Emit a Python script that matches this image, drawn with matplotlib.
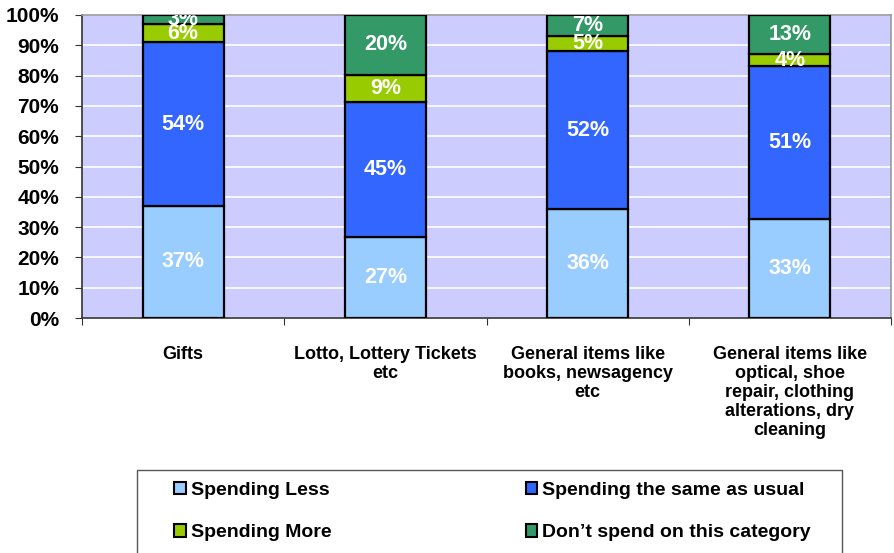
import numpy as np
import matplotlib.pyplot as plt
from matplotlib.patches import Rectangle, Patch

plt.rcParams['font.family'] = ['Liberation Sans', 'DejaVu Sans']
plt.rcParams['font.weight'] = 'bold'

categories = ["Gifts", "Lotto, Lottery Tickets\netc",
              "General items like\nbooks, newsagency\netc",
              "General items like\noptical, shoe\nrepair, clothing\nalterations, dry\ncleaning"]
series = ["Spending Less", "Spending the same as usual",
          "Spending More", "Don\u2019t spend on this category"]
spending_less = [37, 27, 36, 33]
spending_same = [54, 45, 52, 51]
spending_more = [6, 9, 5, 4]
dont_spend = [3, 20, 7, 13]
colors = ["#99CCFF", "#3366FF", "#99CC00", "#339966"]

data = np.array([spending_less, spending_same, spending_more, dont_spend], dtype=float)
# shares drawn as fraction of each column's total
shares = data / data.sum(axis=0) * 100

fig = plt.figure(figsize=(8.94, 5.53), dpi=100)
ax = fig.add_axes([82/894, 1 - 318/553, (891 - 82)/894, (318 - 15)/553])
ax.set_facecolor("#CCCCFF")

x = np.arange(len(categories))
bottom = np.zeros(len(categories))
for i in range(len(series)):
    ax.bar(x, shares[i], 0.4, bottom=bottom, color=colors[i],
           edgecolor="black", linewidth=1.6, zorder=3)
    for j in range(len(categories)):
        ax.text(x[j], bottom[j] + shares[i][j] / 2, "%d%%" % data[i][j],
                ha="center", va="center", color="white", fontsize=15.5,
                fontweight="bold", zorder=4, clip_on=True)
    bottom += shares[i]

ax.set_xlim(-0.5, len(categories) - 0.5)
ax.set_ylim(0, 100)
ax.set_yticks(np.arange(0, 101, 10))
ax.set_yticklabels(["%d%%" % v for v in range(0, 101, 10)], fontsize=15)
ax.yaxis.grid(True, color="white", linewidth=1.2, zorder=0)
ax.set_axisbelow(True)

ax.set_xticks(np.arange(-0.5, len(categories), 1))
ax.set_xticklabels([])
ax.set_xticks(x, minor=True)
ax.set_xticklabels(categories, minor=True, fontsize=13, linespacing=1.15, va="top")
ax.tick_params(axis="x", which="minor", length=0, pad=20)
ax.tick_params(axis="x", which="major", length=5, color="#333333")
ax.tick_params(axis="y", length=5, color="#333333", pad=11.5)

for s in ["left", "bottom"]:
    ax.spines[s].set_color("#333333")
    ax.spines[s].set_linewidth(1.2)
for s in ["top", "right"]:
    ax.spines[s].set_color("#999999")
    ax.spines[s].set_linewidth(1.2)

# legend frame
fig.patches.append(Rectangle((137/894, -0.05), (842 - 137)/894, 0.05 + 1 - 470/553,
                             transform=fig.transFigure, facecolor="white",
                             edgecolor="#555555", linewidth=1.0))
handles = [Patch(facecolor=c, edgecolor="black", linewidth=1.5) for c in colors]
order = [0, 2, 1, 3]
fig.legend([handles[k] for k in order], [series[k] for k in order],
           loc="upper left", bbox_to_anchor=(174/894, 1 - 482/553), ncol=2,
           frameon=False, fontsize=14, handlelength=0.6, handleheight=0.6,
           handletextpad=0.25, columnspacing=10.0, labelspacing=1.3,
           borderaxespad=0, borderpad=0)

fig.savefig("out.png", dpi=100)
